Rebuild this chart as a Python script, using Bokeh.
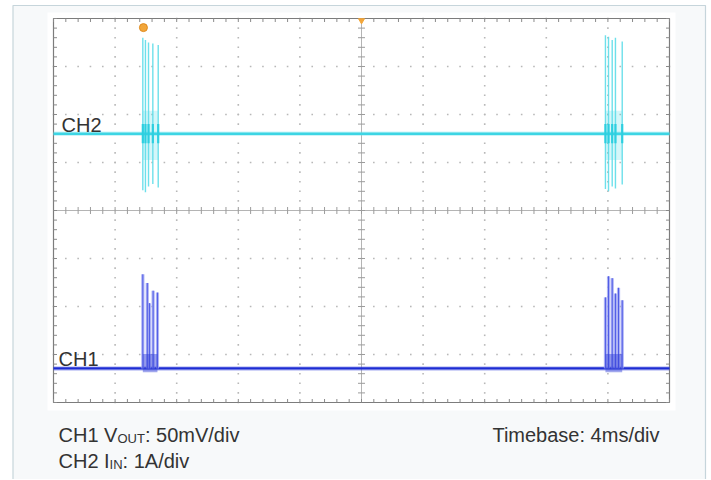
import numpy as np
from bokeh.plotting import figure
from bokeh.models import Range1d
from bokeh.core.properties import value
from bokeh.embed import file_html
from bokeh.resources import INLINE

# ---------------- data ----------------
time_span_ms = [0.0, 40.0]          # 10 div x 4 ms/div
n_xdiv, n_ydiv = 10, 8
ms_per_div = 4.0
ch1_mv_per_div = 50.0
ch2_a_per_div = 1.0
ch1_offset_div = 0.71               # CH1 trace position (div from bottom)
ch2_offset_div = 5.60               # CH2 trace position (div from bottom)

# CH2 input current bursts (A)
ch2_b1_t = [5.80, 5.97, 6.17, 6.45, 6.80]
ch2_b1_hi = [2.00, 1.95, 1.90, 1.88, 1.85]
ch2_b1_lo = [-1.18, -1.22, -1.10, -1.05, -1.12]
ch2_b2_t = [35.84, 36.04, 36.28, 36.49, 36.93]
ch2_b2_hi = [2.05, 2.02, 1.95, 2.00, 1.92]
ch2_b2_lo = [-1.15, -1.20, -1.10, -1.14, -1.06]
ch2_core_hi, ch2_core_lo = 0.48, -0.55

# CH1 output voltage ripple spikes (mV)
ch1_b1_t = [5.80, 6.09, 6.23, 6.47, 6.75]
ch1_b1_pk = [98, 89, 68, 81, 79]
ch1_b2_t = [35.84, 36.04, 36.28, 36.49, 36.69, 36.93]
ch1_b2_pk = [74, 96, 94, 78, 84, 71]
ch1_core_hi, ch1_core_lo = 15, -4

trigger_t = 5.84

# ---------------- layout (pixels -> data) ----------------
W, H = 710, 479
fx0, fy0, fw, fh = 53, 18, 616, 384          # scope screen in canvas pixels
px_x = (time_span_ms[1] - time_span_ms[0]) / fw   # ms per pixel
px_y = n_ydiv / fh                                 # div per pixel


def cx_(px):
    return (px - fx0) * px_x


def cy_(py):
    return (fy0 + fh - py) * px_y


p = figure(width=W, height=H, output_backend="svg", toolbar_location=None,
           x_range=Range1d(cx_(0), cx_(W)), y_range=Range1d(cy_(H), cy_(0)),
           x_axis_location=None, y_axis_location=None)
p.min_border = 0
p.outline_line_color = None
p.border_fill_color = "#ffffff"
p.background_fill_color = "#ffffff"
p.grid.visible = False

# outer panel box
p.quad(left=[cx_(12.5)], right=[cx_(705)], top=[cy_(5)], bottom=[cy_(H + 20)],
       fill_color="#f7f9fa", line_color="#c6d5db", line_width=1.2)
# scope screen (white, slight padding)
p.quad(left=[cx_(fx0 - 6)], right=[cx_(fx0 + fw + 6)], top=[cy_(fy0 - 6)], bottom=[cy_(fy0 + fh + 8)],
       fill_color="#ffffff", line_alpha=0)

# graticule dots
dx, dy = [], []
sub = np.arange(0, n_ydiv + 1e-9, 0.2)
for k in range(1, n_xdiv):
    if k == n_xdiv // 2:
        continue
    dx += [k * ms_per_div] * len(sub)
    dy += list(sub)
subx = np.arange(0, time_span_ms[1] + 1e-9, ms_per_div / 5)
for k in range(1, n_ydiv):
    if k == n_ydiv // 2:
        continue
    dx += list(subx)
    dy += [k] * len(subx)
p.scatter(dx, dy, marker="square", size=1.6, color="#b8b8b8", line_width=0)

# center cross
ccx, ccy = time_span_ms[1] / 2, n_ydiv / 2
p.segment(x0=[ccx, 0], y0=[0, ccy], x1=[ccx, time_span_ms[1]], y1=[n_ydiv, ccy],
          line_color="#b4b4b4", line_width=1)
th_y = 3.5 * px_y
th_x = 3.5 * px_x
p.segment(x0=list(subx), y0=[ccy - th_y] * len(subx), x1=list(subx), y1=[ccy + th_y] * len(subx),
          line_color="#9c9c9c", line_width=1)
p.segment(x0=[ccx - th_x] * len(sub), y0=list(sub), x1=[ccx + th_x] * len(sub), y1=list(sub),
          line_color="#9c9c9c", line_width=1)
# frame outline + edge ticks
p.quad(left=[0], right=[time_span_ms[1]], bottom=[0], top=[n_ydiv],
       fill_alpha=0, line_color="#7c7c7c", line_width=1.2)
p.segment(x0=list(subx), y0=[0] * len(subx), x1=list(subx), y1=[th_y] * len(subx),
          line_color="#8a8a8a", line_width=1)
p.segment(x0=list(subx), y0=[n_ydiv] * len(subx), x1=list(subx), y1=[n_ydiv - th_y] * len(subx),
          line_color="#8a8a8a", line_width=1)
p.segment(x0=[0] * len(sub), y0=list(sub), x1=[th_x] * len(sub), y1=list(sub),
          line_color="#8a8a8a", line_width=1)
p.segment(x0=[time_span_ms[1]] * len(sub), y0=list(sub), x1=[time_span_ms[1] - th_x] * len(sub), y1=list(sub),
          line_color="#8a8a8a", line_width=1)

# ---------------- CH2 trace ----------------
cyan = "#3dd5e4"
p.line(time_span_ms, [ch2_offset_div] * 2, line_color="#6fe0ec", line_width=4.5, line_alpha=0.35)
p.line(time_span_ms, [ch2_offset_div] * 2, line_color=cyan, line_width=2.4)
for t, hi, lo in [(ch2_b1_t, ch2_b1_hi, ch2_b1_lo), (ch2_b2_t, ch2_b2_hi, ch2_b2_lo)]:
    t = np.array(t)
    p.quad(left=[t.min()], right=[t.max()],
           bottom=[ch2_offset_div + ch2_core_lo / ch2_a_per_div],
           top=[ch2_offset_div + ch2_core_hi / ch2_a_per_div],
           fill_color=cyan, fill_alpha=0.22, line_alpha=0)
    p.segment(x0=t, y0=ch2_offset_div + np.array(lo) / ch2_a_per_div,
              x1=t, y1=ch2_offset_div + np.array(hi) / ch2_a_per_div,
              line_color="#5ddde9", line_width=1.4, line_alpha=0.9)
    p.segment(x0=t, y0=ch2_offset_div - 0.2, x1=t, y1=ch2_offset_div + 0.2,
              line_color="#2ccfe0", line_width=2.2)

# ---------------- CH1 trace ----------------
blue = "#1d2cd3"
p.line(time_span_ms, [ch1_offset_div] * 2, line_color="#4a57e0", line_width=4.5, line_alpha=0.35)
p.line(time_span_ms, [ch1_offset_div] * 2, line_color=blue, line_width=2.4)
for t, pk in [(ch1_b1_t, ch1_b1_pk), (ch1_b2_t, ch1_b2_pk)]:
    t = np.array(t)
    top = ch1_offset_div + np.array(pk) / ch1_mv_per_div
    p.segment(x0=t, y0=[ch1_offset_div] * len(t), x1=t, y1=top,
              line_color="#9aa0f3", line_width=3.2, line_alpha=0.8)
    p.segment(x0=t, y0=[ch1_offset_div] * len(t), x1=t, y1=top,
              line_color="#4f5be6", line_width=1.0)
    p.quad(left=[t.min()], right=[t.max()],
           bottom=[ch1_offset_div + ch1_core_lo / ch1_mv_per_div],
           top=[ch1_offset_div + ch1_core_hi / ch1_mv_per_div],
           fill_color="#2f3cd8", fill_alpha=0.45, line_alpha=0)

# trigger markers
p.scatter([trigger_t], [n_ydiv - 0.19], marker="circle", size=8,
          fill_color="#f2a63a", line_color="#e08b1f", line_width=1)
p.scatter([time_span_ms[1] / 2], [n_ydiv - 0.04], marker="inverted_triangle", size=6,
          fill_color="#f2a63a", line_color="#f2a63a")

# ---------------- text ----------------
font = value("Liberation Sans")
tc = "#333333"


def txt(x, y, s, fs="20px", align="left", xoff=0):
    p.text(x=[x], y=[y], text=[s], x_offset=xoff, text_font=font, text_font_size=value(fs),
           text_color=tc, text_baseline="alphabetic", text_align=align)


txt(cx_(61), ch2_offset_div + 9 * px_y, "CH2")
txt(cx_(58), ch1_offset_div + 9 * px_y, "CH1")

x0 = cx_(58)
txt(x0, cy_(434), "CH1 V")
txt(x0, cy_(438), "OUT", fs="13px", xoff=58.9)
txt(x0, cy_(434), ": 50mV/div", xoff=86.4)
txt(x0, cy_(460), "CH2 I")
txt(x0, cy_(464), "IN", fs="13px", xoff=51.1)
txt(x0, cy_(460), ": 1A/div", xoff=64.1)
txt(cx_(659), cy_(434), "Timebase: 4ms/div", align="right")

open("out.html", "w").write(file_html(p, INLINE))
